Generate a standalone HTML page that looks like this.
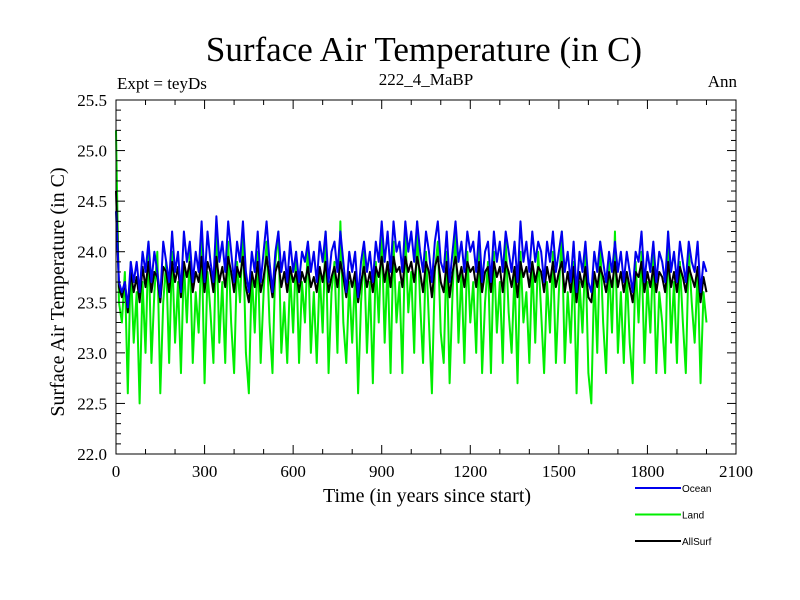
<!DOCTYPE html>
<html><head><meta charset="utf-8"><style>
html,body{margin:0;padding:0;background:#fff;}
svg{display:block;font-family:"Liberation Serif",serif;}
</style></head><body>
<svg id="chart" width="800" height="600" viewBox="0 0 800 600" xmlns="http://www.w3.org/2000/svg">
<text x="424" y="61" font-size="35" text-anchor="middle">Surface Air Temperature (in C)</text>
<text x="117" y="89" font-size="17">Expt = teyDs</text>
<text x="426" y="85" font-size="17" text-anchor="middle">222_4_MaBP</text>
<text x="737" y="87" font-size="17" text-anchor="end">Ann</text>
<g id="series"></g>
<g id="axes"></g>
<text x="427" y="502" font-size="20" text-anchor="middle">Time (in years since start)</text>
<text x="0" y="0" font-size="20" text-anchor="middle" transform="translate(64,292) rotate(-90)">Surface Air Temperature (in C)</text>
<g id="legend"></g>
</svg>
<script>
const years = Array.from({length:201},(_, i)=>i*10);
const xTicks = [0,300,600,900,1200,1500,1800,2100];
const yTicks = [22.0,22.5,23.0,23.5,24.0,24.5,25.0,25.5];
const seriesNames = ["Ocean","Land","AllSurf"];
const land = [25.2,23.5,23.3,23.8,22.6,23.9,23.1,23.6,22.5,23.7,23.0,
24.1,22.9,23.6,24.0,22.6,23.5,23.9,22.9,24.0,23.1,
23.7,22.8,23.9,23.3,24.0,22.9,23.6,23.2,24.1,22.7,
23.8,23.4,22.9,24.2,23.1,23.7,22.9,24.1,23.3,22.8,
23.9,23.5,24.2,23.0,22.6,23.8,23.2,24.0,22.9,23.6,
24.1,23.3,22.8,23.9,24.2,23.0,23.5,22.9,23.8,23.2,
24.0,22.9,23.7,23.3,24.1,23.0,23.6,22.9,23.8,23.2,
24.2,22.8,23.6,23.9,23.0,24.3,23.3,22.9,23.7,23.1,
23.8,22.6,23.5,24.0,23.0,23.7,22.7,23.9,23.3,24.2,
23.1,23.9,22.8,24.1,23.3,23.7,22.8,24.2,23.4,23.8,
23.0,24.3,23.5,22.9,24.0,23.3,22.6,23.8,24.1,23.2,
22.9,24.0,22.7,23.6,24.2,23.1,23.8,22.9,24.0,23.3,
23.7,23.0,24.1,22.8,23.5,23.9,22.8,24.0,23.2,23.7,
22.9,24.1,23.4,23.0,23.8,22.7,24.0,23.3,23.6,22.9,
23.9,23.1,24.0,23.4,22.8,23.7,23.2,24.0,22.9,23.6,
24.2,22.9,23.6,23.1,23.9,22.6,23.7,23.2,24.0,22.8,
22.5,23.8,23.0,24.1,23.3,22.8,23.9,23.2,24.2,23.0,
23.6,22.9,23.8,23.1,22.7,23.9,23.3,24.0,22.9,23.7,
23.2,24.0,22.8,23.6,23.3,22.8,24.2,23.1,23.7,22.9,
23.9,23.3,22.8,24.0,23.5,23.1,23.8,22.7,23.6,23.3];
const ocean = [24.4,23.7,23.6,23.7,23.45,23.9,23.7,23.9,23.6,24.0,23.8,
24.1,23.7,24.0,23.8,23.55,24.1,23.9,23.7,24.2,23.8,
24.0,23.6,24.2,23.9,24.1,23.7,24.0,23.8,24.3,23.7,
24.2,23.9,23.7,24.35,23.9,24.1,23.8,24.3,24.0,23.7,
24.1,23.9,24.3,23.8,23.6,24.0,23.8,24.2,23.7,24.0,
24.3,23.9,23.6,24.0,24.2,23.8,24.0,23.7,24.1,23.8,
24.0,23.7,24.0,23.9,24.1,23.8,24.0,23.7,24.1,23.9,
24.2,23.7,24.0,24.1,23.8,24.2,23.9,23.6,24.0,23.8,
24.0,23.55,23.9,24.1,23.8,24.0,23.7,24.1,23.9,24.3,
23.9,24.2,23.8,24.3,24.0,24.1,23.8,24.3,24.0,24.2,
23.9,24.3,24.0,23.8,24.2,24.0,23.7,24.1,24.3,23.9,
23.8,24.2,23.7,24.0,24.3,23.9,24.1,23.8,24.2,24.0,
24.1,23.8,24.2,23.7,24.0,24.1,23.7,24.2,23.9,24.1,
23.8,24.2,24.0,23.8,24.1,23.7,24.3,23.9,24.1,23.8,
24.2,23.9,24.1,24.0,23.7,24.1,23.9,24.2,23.8,24.0,
24.2,23.8,24.0,23.7,24.1,23.6,24.0,23.8,24.1,23.7,
23.6,24.0,23.8,24.1,23.9,23.7,24.0,23.8,24.1,23.8,
24.0,23.7,24.0,23.8,23.6,24.0,23.9,24.2,23.7,24.0,
23.8,24.1,23.7,24.0,23.9,23.7,24.2,23.8,24.0,23.7,
24.1,23.9,23.7,24.1,23.9,23.8,24.1,23.6,23.9,23.8];
const allSurf = [24.6,23.65,23.55,23.7,23.4,23.8,23.6,23.75,23.5,23.85,23.65,
23.9,23.6,23.8,23.75,23.5,23.85,23.8,23.6,23.9,23.7,
23.85,23.55,23.9,23.75,23.9,23.6,23.8,23.7,23.95,23.6,
23.9,23.8,23.6,23.95,23.7,23.85,23.65,23.95,23.8,23.6,
23.85,23.75,23.95,23.65,23.5,23.8,23.65,23.9,23.6,23.75,
23.95,23.75,23.55,23.8,23.9,23.65,23.8,23.6,23.85,23.7,
23.8,23.6,23.8,23.7,23.85,23.65,23.75,23.6,23.85,23.7,
23.9,23.6,23.75,23.85,23.65,23.9,23.75,23.55,23.8,23.65,
23.8,23.5,23.7,23.85,23.65,23.8,23.6,23.85,23.75,23.95,
23.7,23.9,23.65,23.95,23.8,23.85,23.65,23.95,23.8,23.9,
23.7,23.95,23.8,23.6,23.9,23.8,23.55,23.85,23.95,23.7,
23.6,23.9,23.55,23.8,23.95,23.7,23.85,23.65,23.9,23.8,
23.85,23.65,23.9,23.6,23.8,23.85,23.6,23.9,23.75,23.85,
23.6,23.9,23.8,23.65,23.85,23.55,23.9,23.75,23.85,23.65,
23.9,23.7,23.85,23.8,23.6,23.85,23.7,23.9,23.65,23.8,
23.9,23.6,23.8,23.6,23.85,23.5,23.8,23.65,23.85,23.55,
23.5,23.8,23.65,23.85,23.75,23.6,23.8,23.65,23.9,23.65,
23.8,23.6,23.8,23.65,23.5,23.8,23.75,23.9,23.6,23.8,
23.65,23.85,23.6,23.8,23.75,23.6,23.9,23.65,23.8,23.6,
23.85,23.75,23.6,23.85,23.75,23.65,23.85,23.5,23.75,23.6];

const NS="http://www.w3.org/2000/svg";
const X0=116,X1=736,Y0=454,Y1=100;
const xScale=v=>X0+(v-0)/(2100-0)*(X1-X0);
const yScale=v=>Y0-(v-22.0)/(25.5-22.0)*(Y0-Y1);
function mk(tag,attrs,parent){const e=document.createElementNS(NS,tag);for(const k in attrs)e.setAttribute(k,attrs[k]);parent.appendChild(e);return e;}

const sg=document.getElementById('series');
function drawSeries(vals,color,name){
  const d=vals.map((v,i)=>(i?'L':'M')+xScale(years[i]).toFixed(2)+' '+yScale(v).toFixed(2)).join(' ');
  const p=mk('path',{d:d,fill:'none',stroke:color,'stroke-width':2,'stroke-linejoin':'round'},sg);
  
  
}
drawSeries(land,'#00ee00','land-line');
drawSeries(allSurf,'#000000','allsurf-line');
drawSeries(ocean,'#0000ee','ocean-line');

const ax=document.getElementById('axes');
const frame=mk('rect',{x:X0,y:Y1,width:X1-X0,height:Y0-Y1,fill:'none',stroke:'#000','stroke-width':1},ax);


for(let v=0;v<=2100;v+=100){
  const x=xScale(v),len=(v%300===0)?9:5;
  mk('line',{x1:x,y1:Y0,x2:x,y2:Y0-len,stroke:'#000'},ax);
  mk('line',{x1:x,y1:Y1,x2:x,y2:Y1+len,stroke:'#000'},ax);
}
xTicks.forEach(v=>{
  const t=mk('text',{x:xScale(v),y:477,'font-size':17,'text-anchor':'middle'},ax);
  t.textContent=String(v);
  
  
});
for(let k=0;k<=35;k++){
  const v=22+k*0.1,y=yScale(v),len=(k%5===0)?9:5;
  mk('line',{x1:X0,y1:y,x2:X0+len,y2:y,stroke:'#000'},ax);
  mk('line',{x1:X1,y1:y,x2:X1-len,y2:y,stroke:'#000'},ax);
}
yTicks.forEach(v=>{
  const t=mk('text',{x:107,y:yScale(v)+6,'font-size':17,'text-anchor':'end'},ax);
  t.textContent=v.toFixed(1);
  
  
});

const lg=document.getElementById('legend');
const legendColors=['#0000ee','#00ee00','#000000'];
seriesNames.forEach((n,i)=>{
  const y=488+i*26.5;
  const l=mk('line',{x1:635,y1:y,x2:681,y2:y,stroke:legendColors[i],'stroke-width':2},lg);
  
  
  const t=mk('text',{x:682,y:y+4,'font-size':10,'font-family':'Liberation Sans, sans-serif'},lg);
  t.textContent=n;
  
  
});
</script>
</body></html>
